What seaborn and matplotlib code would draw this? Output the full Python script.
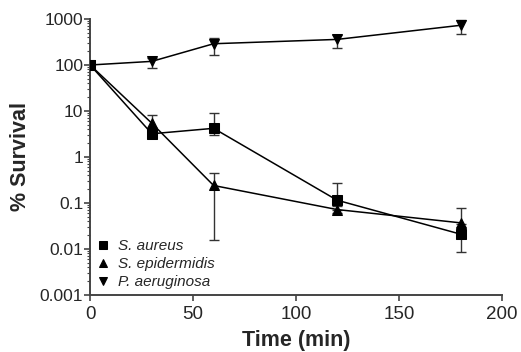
import numpy as np
import pandas as pd
import matplotlib
matplotlib.use("Agg")
import matplotlib.pyplot as plt
import matplotlib.ticker as mticker
import seaborn as sns

time = [0, 30, 60, 120, 180]
series = ["S. aureus", "S. epidermidis", "P. aeruginosa"]
aureus = [100, 3.2, 4.2, 0.115, 0.021]
aureus_lo = [100, 2.6, 3.0, 0.07, 0.0087]
aureus_hi = [100, 4.0, 9.0, 0.27, 0.035]
epider = [100, 5.4, 0.24, 0.072, 0.037]
epider_lo = [100, 4.2, 0.016, 0.06, 0.03]
epider_hi = [100, 8.2, 0.45, 0.085, 0.078]
aerug = [100, 120, 290, 360, 730]
aerug_lo = [100, 85, 165, 235, 470]
aerug_hi = [100, 140, 390, 440, 950]
markers = ["s", "^", "v"]
y_ticks = [0.001, 0.01, 0.1, 1, 10, 100, 1000]
y_ticklabels = ["0.001", "0.01", "0.1", "1", "10", "100", "1000"]
x_ticks = [0, 50, 100, 150, 200]

sns.set_style("ticks")
plt.rcParams["font.family"] = ["Liberation Sans", "DejaVu Sans"]

rows = []
for name, vals in zip(series, [aureus, epider, aerug]):
    for t, v in zip(time, vals):
        rows.append({"Time": t, "Survival": v, "Strain": name})
df = pd.DataFrame(rows)

fig = plt.figure(figsize=(5.21, 3.52), dpi=100)
ax = fig.add_axes([0.173, 0.162, 0.79, 0.784])

errs = {"S. aureus": (aureus, aureus_lo, aureus_hi),
        "S. epidermidis": (epider, epider_lo, epider_hi),
        "P. aeruginosa": (aerug, aerug_lo, aerug_hi)}
for name in series:
    v, lo, hi = (np.array(a) for a in errs[name])
    ax.errorbar(time, v, yerr=[v - lo, hi - v], fmt="none", ecolor="#333333",
                elinewidth=1.0, capsize=3.3, capthick=1.0, zorder=2)

sns.lineplot(data=df, x="Time", y="Survival", hue="Strain", style="Strain",
             markers=markers, dashes=False, palette=["black"] * 3,
             markersize=7, linewidth=1.1, markeredgecolor="black",
             ax=ax, zorder=3)

ax.set_yscale("log")
ax.set_ylim(0.001, 1000)
ax.set_xlim(0, 200)
ax.set_yticks(y_ticks)
ax.set_yticklabels(y_ticklabels)
ax.yaxis.set_minor_locator(mticker.LogLocator(base=10, subs=np.arange(2, 10)))
ax.yaxis.set_minor_formatter(mticker.NullFormatter())
ax.set_xticks(x_ticks)
ax.tick_params(axis="both", which="major", length=4, width=1.2,
               color="#444444")
ax.tick_params(axis="y", which="major", labelsize=12.5, pad=1)
ax.tick_params(axis="x", which="major", labelsize=13.5, pad=4)
ax.tick_params(axis="y", which="minor", length=2, width=0.8, color="#444444")
for s in ["top", "right"]:
    ax.spines[s].set_visible(False)
for s in ["left", "bottom"]:
    ax.spines[s].set_color("#444444")
    ax.spines[s].set_linewidth(1.4)

ax.set_xlabel("Time (min)", fontsize=15.5, fontweight="bold", labelpad=5)
ax.set_ylabel("% Survival", fontsize=15.5, fontweight="bold", labelpad=6)

leg = ax.legend(loc="lower left", frameon=False,
                prop={"style": "italic", "size": 11},
                handlelength=0.9, handletextpad=0.5, labelspacing=0.25,
                borderaxespad=0.0, bbox_to_anchor=(0.0, 0.0))
for h in leg.legend_handles:
    h.set_linestyle("None")
    h.set_markersize(6)

fig.savefig("out.png", dpi=100)
